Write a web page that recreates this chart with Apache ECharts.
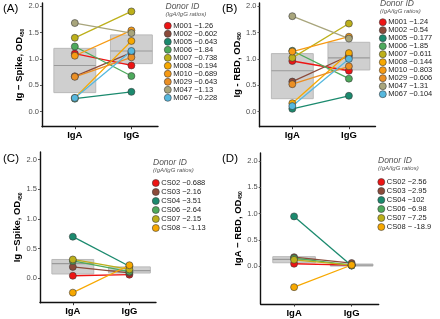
<!DOCTYPE html>
<html>
<head>
<meta charset="utf-8">
<script src="https://cdn.jsdelivr.net/npm/echarts@6/dist/echarts.min.js"></script>
<style>
  html, body { margin: 0; padding: 0; background: #fff; }
  #chart { width: 440px; height: 319px; }
</style>
</head>
<body>
<div id="chart"></div>
<script>
// categories on the x axis
var groups = ['IgA', 'IgG']

// panel A / B donors (Ig - Spike, Ig - RBD)
var donorsM = ['M001', 'M002', 'M005', 'M006', 'M007', 'M008', 'M010', 'M029', 'M047', 'M067']
var colorsM = ['#EE1414', '#8C4A3A', '#1B8A6E', '#4EAA5C', '#BDB01A', '#F7A800', '#F79A13', '#EB8F24', '#A8A57C', '#56B8DE']
var ratiosA = ['1.26', '0.602', '0.643', '1.84', '0.738', '0.194', '0.689', '0.643', '1.13', '0.228']
var igaA = [1.10, 0.67, 0.245, 1.235, 1.40, 0.26, 1.06, 0.66, 1.68, 0.26]
var iggA = [0.875, 1.12, 0.375, 0.675, 1.90, 1.34, 1.54, 1.03, 1.49, 1.15]
var ratiosB = ['1.24', '0.54', '0.177', '1.85', '0.611', '0.144', '0.803', '0.606', '1.31', '0.104']
var igaB = [0.96, 0.57, 0.053, 1.155, 1.02, 0.16, 1.14, 0.52, 1.81, 0.105]
var iggB = [0.775, 1.06, 0.30, 0.625, 1.67, 1.11, 1.42, 0.86, 1.385, 1.00]

// panel C / D donors
var donorsCS = ['CS02', 'CS03', 'CS04', 'CS06', 'CS07', 'CS08']
var colorsCS = ['#EE1414', '#8C4A3A', '#1B8A6E', '#4EAA5C', '#BDB01A', '#F7A800']
var ratiosC = ['0.688', '2.16', '3.51', '2.64', '2.15', '-1.13']
var igaC = [0.04, 0.19, 0.70, 0.29, 0.315, -0.245]
var iggC = [0.058, 0.088, 0.20, 0.11, 0.146, 0.218]
var ratiosD = ['2.56', '2.95', '102', '6.98', '7.25', '-18.9']
var igaD = [0.045, 0.17, 0.945, 0.15, 0.12, -0.40]
var iggD = [0.018, 0.058, 0.009, 0.02, 0.017, 0.021]

// boxes: [q1, median, q3] for IgA and IgG
var boxA = [[0.36, 0.875, 1.20], [0.91, 1.15, 1.455]]
var boxB = [[0.245, 0.775, 1.10], [0.79, 1.02, 1.315]]
var boxC = [[0.07, 0.245, 0.315], [0.086, 0.125, 0.19]]
var boxD = [[0.064, 0.13, 0.18], [0.0, 0.02, 0.04]]

var yTicks = [0, 0.5, 1, 1.5, 2]

var panels = [
  { tag: '(A)', yName: '{t|Ig − Spike, OD}{s|450}', donors: donorsM, colors: colorsM, ratios: ratiosA, iga: igaA, igg: iggA, box: boxA,
    grid: { left: 42, top: 3, width: 116, height: 123.7 }, ymin: -0.286, ymax: 2.06,
    tag_pos: [3, 3], lgTitle: [165.5, 2], lgTop: 21.8, lgLeft: 164, gap: 0 },
  { tag: '(B)', yName: '{t|Ig - RBD, OD}{s|450}', donors: donorsM, colors: colorsM, ratios: ratiosB, iga: igaB, igg: iggB, box: boxB,
    grid: { left: 259.5, top: 3, width: 116, height: 123.7 }, ymin: -0.286, ymax: 2.06,
    tag_pos: [222, 3], lgTitle: [380, -1], lgTop: 18.2, lgLeft: 379, gap: 0 },
  { tag: '(C)', yName: '{t|Ig −Spike, OD}{s|450}', donors: donorsCS, colors: colorsCS, ratios: ratiosC, iga: igaC, igg: iggC, box: boxC,
    grid: { left: 40, top: 152, width: 116, height: 150.7 }, ymin: -0.415, ymax: 2.13,
    tag_pos: [3, 153], lgTitle: [153, 158], lgTop: 179, lgLeft: 152, gap: 1 },
  { tag: '(D)', yName: '{t|IgA − RBD, OD}{s|450}', donors: donorsCS, colors: colorsCS, ratios: ratiosD, iga: igaD, igg: iggD, box: boxD,
    grid: { left: 260.7, top: 153, width: 118, height: 151 }, ymin: -0.72, ymax: 2.15,
    tag_pos: [222, 153], lgTitle: [378, 156.5], lgTop: 178, lgLeft: 377.5, gap: 1 }
]

var FONT = 'Liberation Sans, Arial, sans-serif'
var grids = [], xAxes = [], yAxes = [], series = [], legends = [], titles = []

panels.forEach(function (p, k) {
  grids.push(p.grid)
  xAxes.push({
    type: 'value', gridIndex: k, min: 0.42, max: 2.47,
    splitLine: { show: false },
    axisLine: { onZero: false, lineStyle: { color: '#111', width: 1.4 } },
    axisTick: { customValues: [1, 2], length: 2.5, lineStyle: { color: '#333' } },
    axisLabel: {
      customValues: [1, 2], margin: 4,
      formatter: function (v) { return groups[Math.round(v) - 1] },
      color: '#000', fontSize: 9.5, fontWeight: 'bold', fontFamily: FONT
    }
  })
  yAxes.push({
    type: 'value', gridIndex: k, min: p.ymin, max: p.ymax,
    splitLine: { show: false },
    axisLine: { show: true, onZero: false, lineStyle: { color: '#111', width: 1.4 } },
    axisTick: { show: true, customValues: yTicks, length: 2, lineStyle: { color: '#555' } },
    axisLabel: {
      customValues: yTicks, margin: 3,
      formatter: function (v) { return v.toFixed(1) },
      color: '#4d4d4d', fontSize: 7.5, fontFamily: FONT
    },
    name: p.yName, nameLocation: 'middle', nameRotate: 90, nameGap: 17,
    nameTextStyle: {
      color: '#000', fontFamily: FONT,
      rich: {
        t: { fontSize: 9.5, fontWeight: 'bold', fontFamily: FONT },
        s: { fontSize: 5, fontWeight: 'bold', fontFamily: FONT, verticalAlign: 'bottom', padding: [4, 0, 0, 0] }
      }
    }
  })

  // grey boxes (q1..q3 with median line)
  series.push({
    type: 'custom', xAxisIndex: k, yAxisIndex: k, z: 1, silent: true,
    data: p.box.map(function (b, i) { return [i + 1, b[0], b[1], b[2]] }),
    renderItem: function (params, api) {
      var x = api.value(0)
      var lo = api.coord([x - 0.37, api.value(1)])
      var hi = api.coord([x + 0.37, api.value(3)])
      var md = api.coord([x, api.value(2)])
      return {
        type: 'group',
        children: [
          { type: 'rect', shape: { x: lo[0], y: hi[1], width: hi[0] - lo[0], height: Math.max(lo[1] - hi[1], 1.5) },
            style: { fill: '#cfcfcf', stroke: '#b9b9b9', lineWidth: 1 } },
          { type: 'line', shape: { x1: lo[0], y1: md[1], x2: hi[0], y2: md[1] },
            style: { stroke: '#9a9a9a', lineWidth: 1.2 } }
        ]
      }
    }
  })

  var names = []
  p.donors.forEach(function (d, i) {
    var nm = d + ' −' + p.ratios[i]
    if (p.ratios[i].charAt(0) === '-') nm = d + ' − ' + p.ratios[i]
    names.push(nm)
    series.push({
      type: 'line', name: nm, xAxisIndex: k, yAxisIndex: k, z: 3,
      data: [[1, p.iga[i]], [2, p.igg[i]]],
      symbol: 'circle', symbolSize: 7, showSymbol: true, animation: false,
      lineStyle: { color: p.colors[i], width: 1.3 },
      itemStyle: { color: p.colors[i], borderColor: '#3a3a3a', borderWidth: 0.6 },
      emphasis: { disabled: true }
    })
  })

  legends.push({
    data: names, orient: 'vertical', left: p.lgLeft, top: p.lgTop, padding: 0,
    itemGap: p.gap, itemWidth: 7, itemHeight: 7, icon: 'circle',
    selectedMode: false,
    itemStyle: { borderColor: '#3a3a3a', borderWidth: 0.6 },
    textStyle: { fontSize: 7.5, lineHeight: 7, color: '#222', fontFamily: FONT, padding: [0, 0, 0, -3] }
  })

  titles.push({
    text: p.tag, left: p.tag_pos[0], top: p.tag_pos[1], padding: 0,
    textStyle: { fontSize: 11.5, fontWeight: 'normal', color: '#000', fontFamily: FONT }
  })
  titles.push({
    text: 'Donor ID', subtext: '(IgA/IgG ratios)', left: p.lgTitle[0], top: p.lgTitle[1], padding: 0, itemGap: 0,
    textStyle: { fontSize: 8.5, fontStyle: 'italic', fontWeight: 'normal', color: '#555', fontFamily: FONT },
    subtextStyle: { fontSize: 6, fontStyle: 'italic', color: '#555', fontFamily: FONT }
  })
})

var chart = echarts.init(document.getElementById('chart'))
chart.setOption({
  animation: false,
  backgroundColor: '#fff',
  title: titles,
  legend: legends,
  grid: grids,
  xAxis: xAxes,
  yAxis: yAxes,
  series: series
})
</script>
</body>
</html>
